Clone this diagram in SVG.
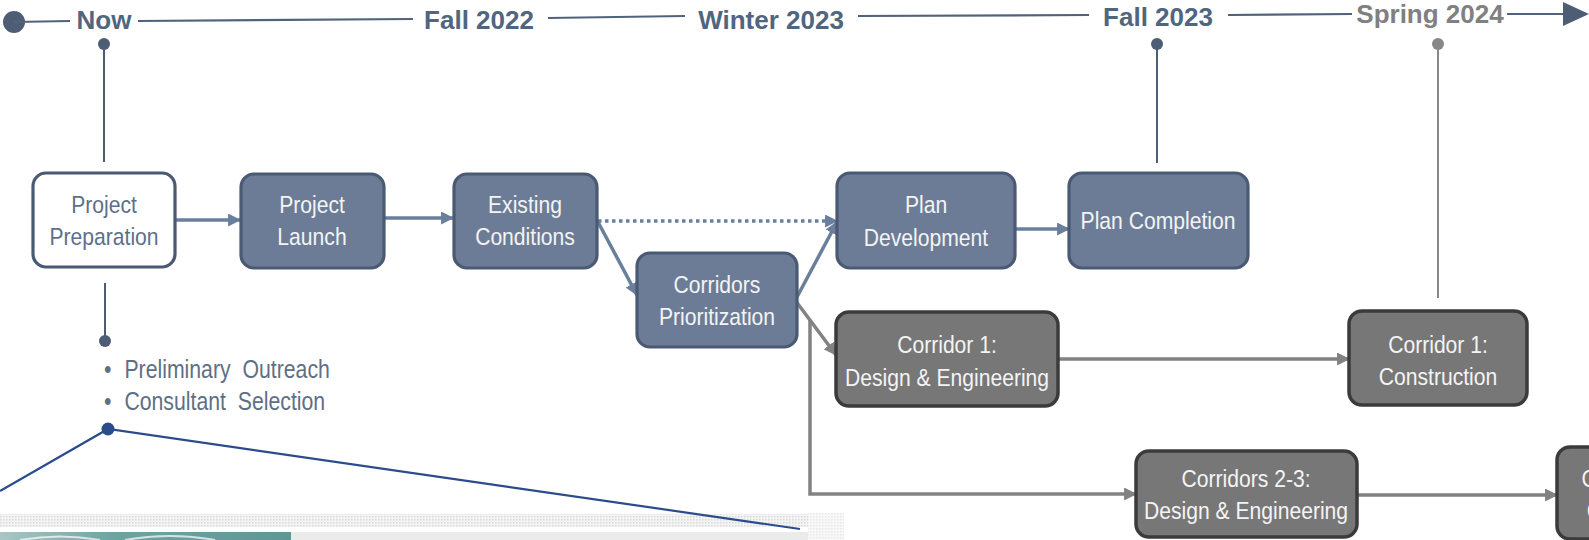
<svg xmlns="http://www.w3.org/2000/svg" width="1589" height="540" viewBox="0 0 1589 540">
<style>
.tl{fill:none;stroke:#50637a;stroke-width:2.2}
.tlab{font-family:"Liberation Sans",Arial,sans-serif;font-weight:bold;font-size:26px;fill:#50667f;text-anchor:middle}
.node{fill:#6c7c97;stroke:#4a5a72;stroke-width:3.2}
.start{fill:#ffffff;stroke:#4a5a72;stroke-width:3.2}
.gnode{fill:#777777;stroke:#3b3b3b;stroke-width:3.5}
.nt{font-family:"Liberation Sans",Arial,sans-serif;font-size:24px;fill:#f4f4f4;text-anchor:middle}
.st{font-family:"Liberation Sans",Arial,sans-serif;font-size:24px;fill:#5d708a;text-anchor:middle}
.bt{font-family:"Liberation Sans",Arial,sans-serif;font-size:25px;fill:#5e6f86;word-spacing:7px}
.c{fill:none;stroke:#6a7f9c;stroke-width:3.5;marker-end:url(#ah)}
.cg{fill:none;stroke:#828282;stroke-width:3.5}
.blue{fill:none;stroke:#2a4c8c;stroke-width:2.2}
</style>
<defs>
<marker id="ah" viewBox="0 0 12 12" refX="11" refY="6" markerWidth="13" markerHeight="13" markerUnits="userSpaceOnUse" orient="auto"><path d="M0,0 L12,6 L0,12 z" fill="#6a7f9c"/></marker>
<marker id="ag" viewBox="0 0 12 12" refX="11" refY="6" markerWidth="13" markerHeight="13" markerUnits="userSpaceOnUse" orient="auto"><path d="M0,0 L12,6 L0,12 z" fill="#828282"/></marker>
<pattern id="dots" width="3" height="3" patternUnits="userSpaceOnUse"><rect width="3" height="3" fill="#f4f4f4"/><rect width="1.5" height="1.5" fill="#d9d9d9"/></pattern>
<linearGradient id="teal" x1="0" y1="0" x2="1" y2="0"><stop offset="0" stop-color="#a9c6c5"/><stop offset="0.4" stop-color="#6fa3a0"/><stop offset="1" stop-color="#5f9794"/></linearGradient>
</defs>
<rect width="1589" height="540" fill="#ffffff"/>

<g id="footer">
<rect x="0" y="514" width="808" height="13" fill="url(#dots)"/>
<rect x="808" y="513" width="36" height="27" fill="url(#dots)" opacity="0.6"/>
<rect x="0" y="532" width="291" height="8" fill="url(#teal)"/>
<path d="M20,540 Q60,533 100,540 M125,540 Q170,532 215,540" fill="none" stroke="#ffffff" stroke-width="2" opacity="0.7"/>
<rect x="291" y="532" width="517" height="8" fill="#ebebeb"/>
</g>

<g id="timeline">
<circle cx="14" cy="22" r="11" fill="#4d5d75"/>
<path class="tl" d="M14,22 L70,21"/>
<path class="tl" d="M138,21 L413,19"/>
<path class="tl" d="M548,18 L685,16"/>
<path class="tl" d="M858,16 L1089,15"/>
<path class="tl" d="M1228,15 L1352,14"/>
<path class="tl" d="M1507,14 L1566,14"/>
<polygon points="1563,2 1589,14 1563,26" fill="#4d5d75"/>
<text class="tlab" x="104" y="29">Now</text>
<text class="tlab" x="479" y="29">Fall 2022</text>
<text class="tlab" x="771" y="29">Winter 2023</text>
<text class="tlab" x="1158" y="26">Fall 2023</text>
<text class="tlab" x="1430" y="23" style="fill:#808080">Spring 2024</text>
<circle cx="104" cy="44" r="6" fill="#4d5d75"/>
<path d="M104,44 V162" stroke="#4d5d75" stroke-width="2" fill="none"/>
<circle cx="1157" cy="44" r="6" fill="#4d5d75"/>
<path d="M1157,44 V163" stroke="#4d5d75" stroke-width="2" fill="none"/>
<circle cx="1438" cy="44" r="6" fill="#888888"/>
<path d="M1438,44 V298" stroke="#888888" stroke-width="2" fill="none"/>
<path d="M105,283 V341" stroke="#4d5d75" stroke-width="2" fill="none"/>
<circle cx="105" cy="341" r="6" fill="#4d5d75"/>
</g>

<g id="notes">
<text class="bt" transform="translate(104,0) scale(0.85,1)"><tspan x="0" y="378">•</tspan><tspan x="24" y="378">Preliminary Outreach</tspan><tspan x="0" y="410">•</tspan><tspan x="24" y="410">Consultant Selection</tspan></text>
<path class="blue" d="M0,491 L108,429 L800,529"/>
<circle cx="108" cy="429" r="6.5" fill="#2a4c8c"/>
</g>

<g id="connectors">
<path class="c" d="M176,220 H240"/>
<path class="c" d="M385,218 H453"/>
<path class="c" d="M598,221 H837" stroke-dasharray="3.5 3.5"/>
<path class="c" d="M598,222 L637,295"/>
<path class="c" d="M797,297 L837,222"/>
<path class="c" d="M1016,229 H1069"/>
<path class="cg" d="M795,300 L836,355" marker-end="url(#ag)"/>
<path class="cg" d="M810,320 V494 H1136" marker-end="url(#ag)"/>
<path class="cg" d="M1059,359 H1349" marker-end="url(#ag)"/>
<path class="cg" d="M1357,495 H1557" marker-end="url(#ag)"/>
</g>

<g id="project-preparation">
<rect class="start" x="33" y="173" width="142" height="94" rx="13"/>
<text class="st" transform="translate(104,0) scale(0.88,1)"><tspan x="0" y="213">Project</tspan><tspan x="0" y="245">Preparation</tspan></text>
</g>
<g id="project-launch">
<rect class="node" x="241" y="174" width="143" height="94" rx="13"/>
<text class="nt" transform="translate(312,0) scale(0.88,1)"><tspan x="0" y="213">Project</tspan><tspan x="0" y="245">Launch</tspan></text>
</g>
<g id="existing-conditions">
<rect class="node" x="454" y="174" width="143" height="94" rx="13"/>
<text class="nt" transform="translate(525,0) scale(0.88,1)"><tspan x="0" y="213">Existing</tspan><tspan x="0" y="245">Conditions</tspan></text>
</g>
<g id="corridors-prioritization">
<rect class="node" x="637" y="253" width="160" height="94" rx="13"/>
<text class="nt" transform="translate(717,0) scale(0.88,1)"><tspan x="0" y="293">Corridors</tspan><tspan x="0" y="325">Prioritization</tspan></text>
</g>
<g id="plan-development">
<rect class="node" x="837" y="173" width="178" height="95" rx="13"/>
<text class="nt" transform="translate(926,0) scale(0.88,1)"><tspan x="0" y="213">Plan</tspan><tspan x="0" y="246">Development</tspan></text>
</g>
<g id="plan-completion">
<rect class="node" x="1069" y="173" width="179" height="95" rx="13"/>
<text class="nt" transform="translate(1158,0) scale(0.88,1)"><tspan x="0" y="229">Plan Completion</tspan></text>
</g>
<g id="corridor1-design">
<rect class="gnode" x="836" y="312" width="222" height="94" rx="13"/>
<text class="nt" transform="translate(947,0) scale(0.88,1)"><tspan x="0" y="353">Corridor 1:</tspan><tspan x="0" y="386">Design &amp; Engineering</tspan></text>
</g>
<g id="corridor1-construction">
<rect class="gnode" x="1349" y="311" width="178" height="94" rx="13"/>
<text class="nt" transform="translate(1438,0) scale(0.88,1)"><tspan x="0" y="353">Corridor 1:</tspan><tspan x="0" y="385">Construction</tspan></text>
</g>
<g id="corridors23-design">
<rect class="gnode" x="1136" y="451" width="221" height="86" rx="13"/>
<text class="nt" transform="translate(1246,0) scale(0.88,1)"><tspan x="0" y="487">Corridors 2-3:</tspan><tspan x="0" y="519">Design &amp; Engineering</tspan></text>
</g>
<g id="corridors23-construction">
<rect class="gnode" x="1557" y="447" width="178" height="92" rx="13"/>
<text class="nt" transform="translate(1646,0) scale(0.88,1)"><tspan x="0" y="487">Corridors 2-3:</tspan><tspan x="0" y="519">Construction</tspan></text>
</g>
</svg>
